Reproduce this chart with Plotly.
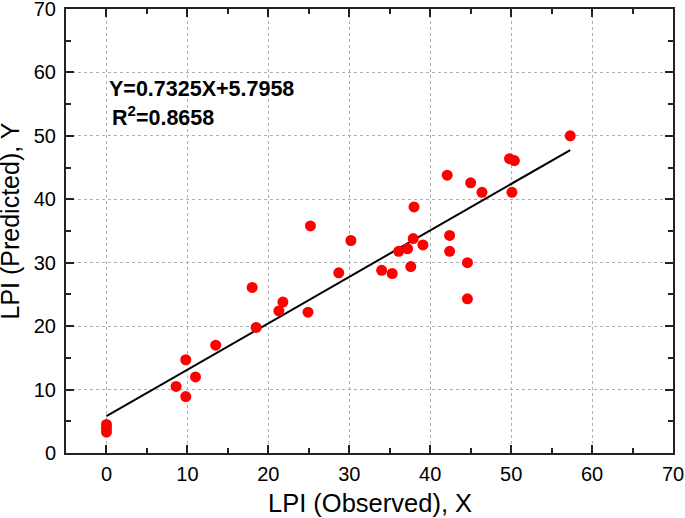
import plotly.graph_objects as go

observed = [0, 0, 0, 8.6, 9.8, 9.8, 11.0, 13.5, 18.0, 18.5, 21.3, 21.8, 24.9,
            25.2, 28.7, 30.2, 34.0, 35.3, 36.1, 37.2, 37.6, 38.0, 37.9, 39.1,
            42.1, 42.4, 42.4, 44.6, 44.6, 45.0, 46.4, 49.8, 50.4, 50.1, 57.3]
predicted = [3.3, 3.9, 4.5, 10.5, 8.9, 14.7, 12.0, 17.0, 26.1, 19.8, 22.4, 23.8, 22.2,
             35.8, 28.4, 33.5, 28.8, 28.3, 31.8, 32.2, 29.4, 38.8, 33.8, 32.8,
             43.8, 34.3, 31.8, 30.0, 24.3, 42.6, 41.1, 46.4, 46.1, 41.1, 50.0]

slope = 0.7325
intercept = 5.7958
fit_x = [0, 57.3]
fit_y = [slope * v + intercept for v in fit_x]

x_ticks = [0, 10, 20, 30, 40, 50, 60, 70]
y_ticks = [0, 10, 20, 30, 40, 50, 60, 70]

FONT = "Arial, Liberation Sans, sans-serif"

fig = go.Figure()
fig.add_trace(go.Scatter(x=fit_x, y=fit_y, mode="lines",
                         line=dict(color="black", width=2), showlegend=False))
fig.add_trace(go.Scatter(x=observed, y=predicted, mode="markers",
                         marker=dict(color="#ff0000", size=11, line=dict(width=0)),
                         showlegend=False))

axis_common = dict(
    showline=True, linecolor="#222", linewidth=2, mirror="ticks",
    ticks="inside", ticklen=8, tickwidth=2, tickcolor="#222",
    minor=dict(ticks="inside", ticklen=5, tickwidth=2, tickcolor="#222", dtick=5, showgrid=False),
    showgrid=True, gridcolor="#b0b0b0", griddash="3px,3px", gridwidth=1,
    zeroline=False, automargin=False, ticklabeloverflow="allow",
    tickfont=dict(family=FONT, size=20, color="black"),
)

fig.update_xaxes(range=[-5, 70], tickvals=x_ticks, ticklabelstandoff=2, **axis_common)
fig.update_yaxes(range=[0, 70], tickvals=y_ticks, ticklabelstandoff=4, **axis_common)

fig.add_annotation(x=0.5, y=-50 / 444, xref="paper", yref="paper",
                   xanchor="center", yanchor="middle", text="LPI (Observed), X",
                   showarrow=False, font=dict(family=FONT, size=25.5, color="black"))
fig.add_annotation(x=-56.5 / 607, y=(453 - 221) / 444, xref="paper", yref="paper",
                   xanchor="center", yanchor="middle", text="LPI (Predicted), Y",
                   textangle=-90, showarrow=False,
                   font=dict(family=FONT, size=25, color="black"))

fig.add_annotation(x=0.1, y=57.4, xref="x", yref="y", xanchor="left", yanchor="middle",
                   text="<b>Y=0.7325X+5.7958</b>", showarrow=False,
                   font=dict(family=FONT, size=21.5, color="black"))
fig.add_annotation(x=0.4, y=53.1, xref="x", yref="y", xanchor="left", yanchor="middle",
                   text="<b>R<sup>2</sup>=0.8658</b>", showarrow=False,
                   font=dict(family=FONT, size=21.5, color="black"))

fig.update_layout(width=685, height=518, margin=dict(l=66, r=12, t=9, b=65),
                  plot_bgcolor="white", paper_bgcolor="white")

fig.write_html("out.html", config={"displayModeBar": False},
               post_script="document.body.style.margin='0';")
